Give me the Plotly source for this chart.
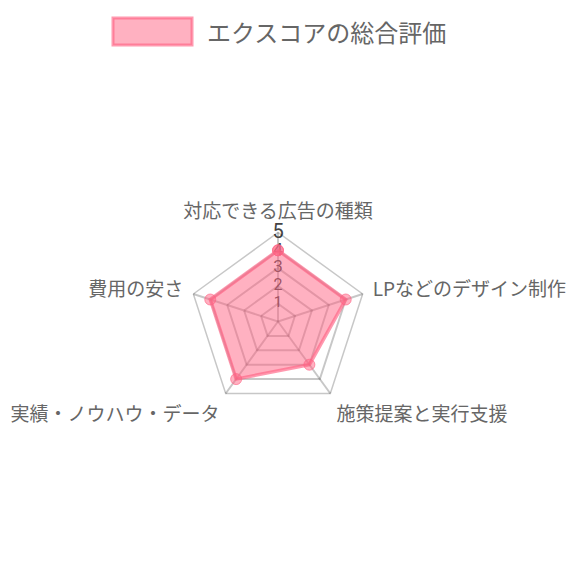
import plotly.graph_objects as go

# radar data
categories = ["対応できる広告の種類", "LPなどのデザイン制作", "施策提案と実行支援",
              "実績・ノウハウ・データ", "費用の安さ"]
scores = [4, 4, 3, 4, 4]
series_name = "エクスコアの総合評価"
tick_values = [1, 2, 3, 4, 5]
tick_labels = ["1", "2", "3", "4", "5"]

pink_fill = "rgba(255,99,132,0.5)"
pink_line = "rgba(255,99,132,0.65)"
grid = "rgba(0,0,0,0.22)"
jp_font = "Noto Sans CJK JP, Noto Sans, sans-serif"

W = H = 572  # page body has an 8px margin inside the 580 window

fig = go.Figure()

# scale numbers along the top spoke, drawn first so the fill sits over them
fig.add_trace(go.Scatterpolar(
    r=tick_values,
    theta=[categories[0]] * len(tick_values),
    mode="text",
    text=tick_labels,
    textfont=dict(size=[15, 16, 17, 17, 20], color="#444", family="Roboto, sans-serif"),
    textposition="middle center",
    showlegend=False,
    hoverinfo="skip",
))

fig.add_trace(go.Scatterpolar(
    r=scores + scores[:1],
    theta=categories + categories[:1],
    name=series_name,
    mode="lines+markers",
    fill="toself",
    fillcolor=pink_fill,
    line=dict(color=pink_line, width=3.5),
    marker=dict(size=11, color=pink_fill, line=dict(color=pink_line, width=1)),
    showlegend=False,
))

fig.update_layout(
    width=W,
    height=H,
    margin=dict(l=0, r=0, t=0, b=0),
    paper_bgcolor="white",
    plot_bgcolor="white",
    polar=dict(
        domain=dict(x=[181 / W, 359 / W], y=[169.5 / H, 347.5 / H]),
        bgcolor="white",
        gridshape="linear",
        radialaxis=dict(
            range=[0, 5],
            tickvals=tick_values,
            showticklabels=False,
            ticks="",
            showline=False,
            gridcolor=grid,
            gridwidth=1.5,
        ),
        angularaxis=dict(
            rotation=90,
            direction="clockwise",
            gridcolor=grid,
            gridwidth=1.5,
            linecolor=grid,
            linewidth=1.5,
            ticks="outside",
            ticklen=6,
            tickcolor="rgba(0,0,0,0)",
            tickfont=dict(size=19, color="#666", family=jp_font),
        ),
    ),
    # legend box drawn by hand to match the wide swatch
    shapes=[dict(type="rect", xref="paper", yref="paper",
                 x0=105 / W, x1=184 / W, y0=1 - 37 / H, y1=1 - 10 / H,
                 fillcolor=pink_fill, line=dict(color=pink_line, width=3))],
    annotations=[dict(text=series_name, xref="paper", yref="paper",
                      x=197 / W, y=1 - 23 / H, xanchor="left", yanchor="middle",
                      showarrow=False, font=dict(size=24, color="#666", family=jp_font))],
)

fig.write_html("out.html")
